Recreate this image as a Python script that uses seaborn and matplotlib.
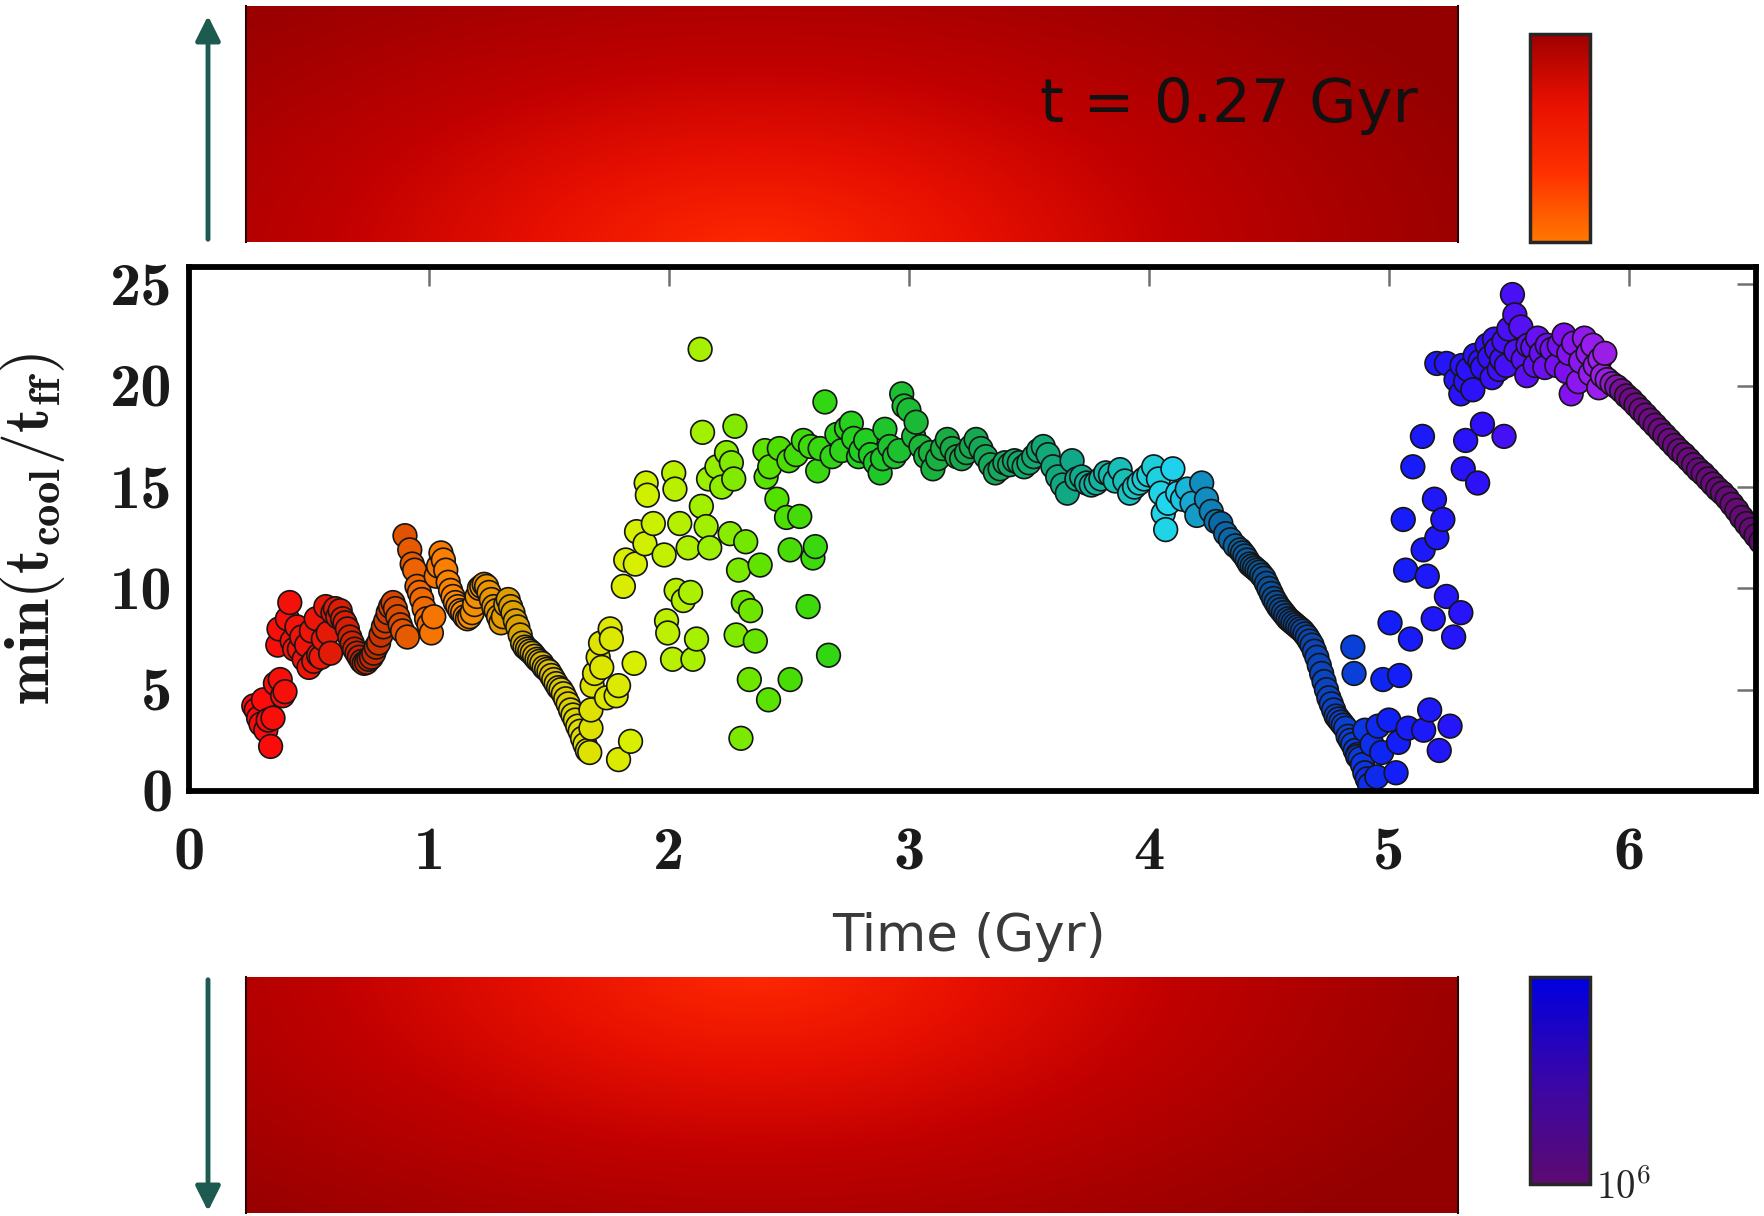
import numpy as np
import pandas as pd
import matplotlib
matplotlib.use('Agg')
import matplotlib.pyplot as plt
import seaborn as sns
from matplotlib.colors import LinearSegmentedColormap, Normalize, LogNorm
from matplotlib.cm import ScalarMappable
from matplotlib.patches import FancyArrowPatch

# ---- data: time (Gyr) and min(t_cool/t_ff) ----
early_t = [0.27, 0.28, 0.29, 0.30, 0.31, 0.32, 0.33, 0.34, 0.35, 0.36, 0.37, 0.375, 0.38, 0.39, 0.40,
           0.41, 0.42, 0.43, 0.44, 0.45, 0.46, 0.47, 0.48, 0.49, 0.50, 0.51, 0.52, 0.53, 0.54, 0.55,
           0.56, 0.57, 0.58, 0.59, 0.60, 0.61, 0.62, 0.63, 0.64, 0.65, 0.66, 0.67, 0.68, 0.69, 0.70,
           0.71, 0.72, 0.73, 0.74, 0.75, 0.76, 0.77, 0.78, 0.79, 0.80, 0.81, 0.82, 0.83, 0.84, 0.85,
           0.86, 0.87, 0.88, 0.89, 0.90, 0.91, 0.92, 0.93, 0.94, 0.95, 0.96, 0.97, 0.98, 0.99, 1.00,
           1.01, 1.02, 1.03, 1.04, 1.05, 1.06, 1.07, 1.08, 1.09, 1.10, 1.11, 1.12, 1.13, 1.14, 1.15,
           1.16, 1.17, 1.18, 1.19, 1.20, 1.21, 1.22, 1.23, 1.24, 1.25, 1.26, 1.27, 1.28, 1.29, 1.30,
           1.31, 1.32, 1.33, 1.34, 1.35, 1.36, 1.37, 1.38, 1.39, 1.40, 1.41, 1.42, 1.43, 1.44, 1.45,
           1.46, 1.47, 1.48, 1.49, 1.50, 1.51, 1.52, 1.53, 1.54, 1.55, 1.56, 1.57, 1.58, 1.59, 1.60,
           1.61, 1.62, 1.63, 1.64, 1.65, 1.66, 1.67]
early_r = [4.2, 4.0, 3.6, 3.3, 4.5, 3.0, 3.5, 2.2, 3.6, 5.3, 7.2, 8.0, 5.5, 4.7, 4.9,
           8.5, 9.3, 7.4, 7.0, 8.1, 7.0, 7.6, 6.5, 7.2, 6.1, 7.9, 6.4, 8.5, 6.7, 6.6,
           7.5, 9.1, 7.8, 6.8, 8.8, 9.0, 8.6, 8.9, 8.5, 8.3, 8.0, 7.6, 7.3, 7.0, 6.8,
           6.6, 6.4, 6.3, 6.35, 6.5, 6.6, 6.8, 7.1, 7.3, 7.7, 8.1, 8.4, 8.8, 9.1, 9.3,
           9.0, 8.6, 8.2, 7.9, 12.6, 7.6, 11.9, 11.2, 10.9, 10.1, 9.8, 9.45, 9.0, 8.5, 8.2,
           7.8, 8.6, 10.6, 11.1, 11.75, 11.4, 10.9, 10.3, 9.9, 9.6, 9.3, 9.1, 8.9, 8.8, 8.6,
           8.5, 8.6, 8.8, 9.2, 9.6, 10.0, 10.1, 10.2, 10.1, 9.8, 9.45, 9.1, 8.9, 8.6, 8.3,
           8.6, 9.2, 9.45, 9.1, 8.8, 8.4, 8.1, 7.7, 7.3, 7.1, 7.0, 6.9, 6.8, 6.65, 6.5,
           6.4, 6.3, 6.1, 6.0, 5.9, 5.7, 5.5, 5.3, 5.1, 5.0, 4.8, 4.55, 4.3, 4.0, 3.75,
           3.5, 3.2, 2.95, 2.6, 2.3, 2.0, 1.9]

burst_t = [1.675, 1.675, 1.68, 1.69, 1.705, 1.715, 1.72, 1.74, 1.755, 1.76, 1.78, 1.79, 1.79, 1.81,
           1.82, 1.84, 1.855, 1.86, 1.865, 1.90, 1.905, 1.91, 1.935, 1.98, 1.99, 1.995, 2.015, 2.02,
           2.025, 2.03, 2.045, 2.06, 2.08, 2.09, 2.10, 2.115, 2.13, 2.135, 2.14, 2.155, 2.165, 2.17,
           2.20, 2.22, 2.24, 2.255, 2.26, 2.27, 2.275, 2.28, 2.29, 2.30, 2.31, 2.32, 2.335, 2.34,
           2.36, 2.38, 2.40, 2.405, 2.415, 2.42, 2.45, 2.46, 2.49, 2.50, 2.505, 2.505, 2.53, 2.545,
           2.56, 2.58, 2.59, 2.60, 2.61, 2.62, 2.63, 2.65, 2.665, 2.68, 2.70, 2.72, 2.74, 2.76,
           2.77, 2.79]
burst_r = [3.1, 4.0, 5.2, 5.8, 6.6, 7.3, 6.1, 4.6, 8.0, 7.5, 4.7, 5.2, 1.55, 10.1,
           11.4, 2.45, 6.3, 11.2, 12.8, 12.2, 15.2, 14.6, 13.2, 11.65, 8.4, 7.8, 6.5, 15.7,
           14.9, 9.9, 13.2, 9.4, 12.0, 9.8, 6.5, 7.5, 21.8, 14.05, 17.7, 13.05, 15.4, 12.0,
           16.0, 15.0, 16.7, 12.7, 16.2, 15.4, 18.0, 7.7, 10.9, 2.6, 9.3, 12.3, 5.5, 8.9,
           7.4, 11.15, 16.8, 15.5, 4.5, 16.0, 14.4, 16.9, 13.5, 16.3, 11.9, 5.5, 16.6, 13.55,
           17.3, 9.1, 17.0, 11.5, 12.06, 15.8, 16.9, 19.2, 6.7, 16.5, 17.6, 16.8, 17.9, 18.15,
           17.4, 16.5]

plateau_t = [2.80, 2.82, 2.84, 2.86, 2.88, 2.89, 2.90, 2.92, 2.94, 2.96, 2.97, 2.98, 3.00, 3.02,
             3.03, 3.05, 3.07, 3.09, 3.10, 3.12, 3.14, 3.16, 3.18, 3.20, 3.22, 3.24, 3.26, 3.28,
             3.30, 3.32, 3.34, 3.36, 3.38, 3.40, 3.42, 3.44, 3.46, 3.48, 3.50, 3.52, 3.54, 3.56,
             3.58, 3.60, 3.62, 3.64, 3.66, 3.68, 3.70, 3.72, 3.74, 3.76, 3.78, 3.80, 3.82, 3.84,
             3.86, 3.88, 3.90, 3.92, 3.94, 3.96, 3.98, 4.00, 4.02, 4.04, 4.05, 4.06, 4.07, 4.08,
             4.10, 4.12, 4.14, 4.16, 4.18, 4.20, 4.22, 4.24, 4.26, 4.28, 4.30, 4.32, 4.34, 4.36]
plateau_r = [16.8, 17.3, 16.6, 16.2, 15.7, 16.4, 17.85, 17.0, 16.5, 16.8, 19.6, 19.0, 18.8, 17.5,
             18.2, 17.0, 16.5, 16.7, 15.9, 16.4, 16.9, 17.35, 16.9, 16.5, 16.4, 16.7, 17.0, 17.35,
             16.9, 16.5, 16.1, 15.7, 15.9, 16.2, 16.1, 16.3, 16.2, 16.0, 16.2, 16.5, 16.8, 17.0,
             16.6, 16.0, 15.5, 15.1, 14.7, 16.3, 15.4, 15.5, 15.2, 15.1, 15.2, 15.4, 15.7, 15.6,
             15.3, 15.86, 15.3, 14.7, 15.0, 15.2, 15.4, 15.6, 16.0, 15.4, 14.7, 13.7, 12.9, 14.2,
             15.9, 14.7, 14.4, 14.9, 14.2, 13.6, 15.2, 14.4, 13.8, 13.3, 13.2, 12.7, 12.4, 12.1]

decline_t = [4.38, 4.39, 4.40, 4.41, 4.42, 4.43, 4.44, 4.45, 4.46, 4.47, 4.48, 4.49, 4.50, 4.51,
             4.52, 4.53, 4.54, 4.55, 4.56, 4.57, 4.58, 4.59, 4.60, 4.61, 4.62, 4.63, 4.64, 4.65,
             4.66, 4.67, 4.68, 4.69, 4.70, 4.71, 4.72, 4.73, 4.74, 4.75, 4.76, 4.77, 4.78, 4.79,
             4.80, 4.81, 4.82, 4.83, 4.84, 4.85, 4.86, 4.87, 4.88, 4.89, 4.90, 4.91, 4.92]
decline_r = [11.9, 11.75, 11.6, 11.4, 11.2, 11.1, 11.0, 10.9, 10.8, 10.65, 10.5, 10.25, 10.0, 9.75,
             9.5, 9.3, 9.1, 8.95, 8.8, 8.65, 8.5, 8.4, 8.3, 8.2, 8.1, 8.0, 7.9, 7.75,
             7.6, 7.4, 7.2, 6.9, 6.6, 6.2, 5.8, 5.4, 5.0, 4.6, 4.3, 4.0, 3.7, 3.55,
             3.4, 3.25, 3.1, 2.7, 2.5, 2.3, 2.0, 1.8, 1.6, 1.3, 0.9, 0.6, 0.3]

rebound_t = [4.85, 4.855, 4.87, 4.90, 4.93, 4.95, 4.955, 4.97, 4.975, 5.00, 5.005, 5.03, 5.04, 5.045,
             5.06, 5.07, 5.08, 5.09, 5.10, 5.14, 5.143, 5.145, 5.16, 5.17, 5.185, 5.19, 5.20, 5.21,
             5.225, 5.24, 5.255, 5.27, 5.30, 5.31, 5.32, 5.37, 5.39, 5.48]
rebound_r = [7.1, 5.8, 1.7, 3.0, 2.3, 0.7, 3.2, 1.9, 5.5, 3.5, 8.3, 0.9, 2.4, 5.7,
             13.4, 10.9, 3.1, 7.5, 16.0, 17.5, 11.9, 3.0, 10.6, 4.0, 8.5, 14.4, 12.5, 2.0,
             13.4, 9.6, 3.2, 7.6, 8.8, 15.9, 17.3, 15.2, 18.1, 17.5]

peak_t = [5.20, 5.24, 5.28, 5.30, 5.305, 5.32, 5.33, 5.35, 5.36, 5.38, 5.39, 5.41, 5.42, 5.43,
          5.44, 5.45, 5.46, 5.47, 5.48, 5.49, 5.50, 5.515, 5.525, 5.53, 5.55, 5.56, 5.575, 5.58,
          5.60, 5.61, 5.62, 5.635, 5.65, 5.66, 5.68, 5.70, 5.71, 5.73, 5.74, 5.75, 5.76, 5.77,
          5.79, 5.80, 5.815, 5.83, 5.84, 5.85, 5.86, 5.875, 5.88, 5.89, 5.90, 5.91]
peak_r = [21.1, 21.1, 20.3, 19.6, 21.0, 20.2, 20.8, 19.8, 21.5, 21.2, 20.9, 22.0, 21.4, 20.4,
          22.3, 21.8, 20.8, 21.3, 22.2, 21.0, 22.8, 24.5, 23.5, 21.7, 22.9, 21.3, 20.5, 22.0,
          21.9, 21.0, 22.35, 21.6, 20.9, 22.0, 21.8, 21.0, 22.0, 22.5, 20.7, 21.6, 19.6, 22.1,
          20.2, 21.2, 22.35, 21.6, 20.6, 22.0, 21.0, 19.9, 21.3, 20.5, 21.6, 20.3]

late_t = [5.93, 5.95, 5.97, 5.99, 6.01, 6.03, 6.05, 6.07, 6.09, 6.11, 6.13, 6.15, 6.17, 6.19,
          6.21, 6.23, 6.25, 6.27, 6.29, 6.31, 6.33, 6.35, 6.37, 6.39, 6.41, 6.43, 6.45, 6.47,
          6.49, 6.51, 6.53, 6.55]
late_r = [20.1, 19.95, 19.75, 19.5, 19.3, 19.05, 18.8, 18.55, 18.3, 18.05, 17.8, 17.55, 17.3, 17.05,
          16.8, 16.6, 16.35, 16.1, 15.85, 15.65, 15.4, 15.15, 14.9, 14.7, 14.45, 14.15, 13.85, 13.5,
          13.2, 12.9, 12.6, 12.3]

# colours of the time track (time in Gyr -> colour)
track_times = [0.27, 0.55, 0.75, 0.95, 1.10, 1.35, 1.65, 1.85, 2.15, 2.45, 2.80, 3.20, 3.70,
               4.10, 4.30, 4.55, 4.85, 5.00, 5.40, 5.75, 5.90, 6.00, 6.55]
track_colors = ['#ff0a0a', '#e81808', '#c02800', '#f06800', '#ff8800', '#dca000', '#e0e000',
                '#d8f000', '#a0f000', '#50e000', '#20d020', '#18a848', '#10a888', '#20d8f0',
                '#0a6aa8', '#0a4c98', '#0a40d8', '#1020f8', '#3010f8', '#8010f0', '#a020f0',
                '#700a88', '#620a72']

snapshot_label = 't = 0.27 Gyr'
cbar_tick_label = r'$10^6$'

# ---- build the dataframe ----
df = pd.DataFrame({
    'time': early_t + burst_t + plateau_t + decline_t + rebound_t + peak_t + late_t,
    'ratio': early_r + burst_r + plateau_r + decline_r + rebound_r + peak_r + late_r,
})
df = df.sort_values('time', kind='stable').reset_index(drop=True)

t_min, t_max = track_times[0], track_times[-1]
track_cmap = LinearSegmentedColormap.from_list(
    'track', [((t - t_min) / (t_max - t_min), c) for t, c in zip(track_times, track_colors)])

sns.set_style('white')
plt.rcParams['mathtext.fontset'] = 'cm'
plt.rcParams['font.family'] = ['DejaVu Sans']

W, H = 1765, 1216
fig = plt.figure(figsize=(W / 100, H / 100), dpi=100)


def px_rect(x0, y0, x1, y1):
    # pixel box (top-left origin) -> figure fraction rect
    return [x0 / W, 1 - y1 / H, (x1 - x0) / W, (y1 - y0) / H]


# ---- the two halves of the simulation frame (behind the plot) ----
frame_cmap = LinearSegmentedColormap.from_list(
    'frame', [(0.0, '#ff2a00'), (0.27, '#e81000'), (0.54, '#c00000'), (0.77, '#a80000'), (1.0, '#940000')])
gx, gy = np.meshgrid(np.linspace(0, 1, 400), np.linspace(0, 1, 120))
for rect, cy in [(px_rect(246, 6, 1458, 242), -0.05), (px_rect(246, 977, 1458, 1213), 1.05)]:
    axf = fig.add_axes(rect)
    glow = np.hypot((gx - 0.42) / 0.5, (gy - cy) / 1.15)
    axf.imshow(glow, cmap=frame_cmap, vmin=0, vmax=1.3, origin='lower', extent=(0, 1, 0, 1), aspect='auto')
    axf.set_xticks([])
    axf.set_yticks([])
    for side, sp in axf.spines.items():
        sp.set_visible(side in ('left', 'right'))
        sp.set_color('#2a0000')
        sp.set_linewidth(1.5)
    if cy < 0:
        axf.text(0.967, 0.58, snapshot_label, transform=axf.transAxes, ha='right', va='center',
                 fontsize=44, color='#111111')

# colour bars of the frame
top_cmap = LinearSegmentedColormap.from_list('top', ['#ff7800', '#ff3000', '#e81000', '#a00000'])
bot_cmap = LinearSegmentedColormap.from_list('bot', ['#5c0a70', '#3a06a8', '#0000e0'])
cax_top = fig.add_axes(px_rect(1530, 34, 1590, 242))
cb_top = fig.colorbar(ScalarMappable(norm=Normalize(0, 1), cmap=top_cmap), cax=cax_top)
cb_top.set_ticks([])
cb_top.outline.set_linewidth(2.5)
cax_bot = fig.add_axes(px_rect(1530, 977, 1590, 1184))
cb_bot = fig.colorbar(ScalarMappable(norm=LogNorm(1e6, 1e7), cmap=bot_cmap), cax=cax_bot)
cb_bot.set_ticks([1e6], labels=[cbar_tick_label])
cb_bot.minorticks_off()
cax_bot.tick_params(length=0, pad=4, labelsize=28)
cb_bot.outline.set_linewidth(2.5)

# arrows at the left
arrow_color = '#1d5b50'
for y_from, y_to in [(242, 13), (977, 1214)]:
    fig.add_artist(FancyArrowPatch((208 / W, 1 - y_from / H), (208 / W, 1 - y_to / H),
                                   transform=fig.transFigure, arrowstyle='-|>,head_length=0.6,head_width=0.3',
                                   mutation_scale=25, color=arrow_color, linewidth=3.5))

# ---- main scatter plot ----
ax = fig.add_axes(px_rect(189, 267, 1756, 791))
ax.set_facecolor('white')
sns.scatterplot(data=df, x='time', y='ratio', hue='time', palette=track_cmap, hue_norm=(t_min, t_max),
                s=290, edgecolor='#151515', linewidth=1.2, legend=False, ax=ax)
ax.set_xlim(0, 6.53)
ax.set_ylim(0, 25.86)
ax.set_xticks(range(0, 7))
ax.set_yticks(range(0, 26, 5))
for sp in ax.spines.values():
    sp.set_visible(True)
    sp.set_color('black')
    sp.set_linewidth(4.2)
ax.tick_params(axis='both', direction='in', length=14, width=1.8, color='#707070',
               top=True, right=True, labelsize=45)
ax.tick_params(axis='x', pad=26)
ax.tick_params(axis='y', pad=12)
for lab in ax.get_xticklabels() + ax.get_yticklabels():
    lab.set_fontfamily('cmb10')
    lab.set_color('#1a1a1a')
ax.set_xlabel('')
ax.set_ylabel(r'$\mathbf{min(t_{cool}/t_{ff})}$', fontsize=46, color='#1a1a1a')
ax.yaxis.set_label_coords(-0.078, 0.5)

fig.text(969 / W, 1 - 937 / H, 'Time (Gyr)', ha='center', va='center', fontsize=37, color='#3a3a3a')

fig.savefig('out.png', dpi=100)
